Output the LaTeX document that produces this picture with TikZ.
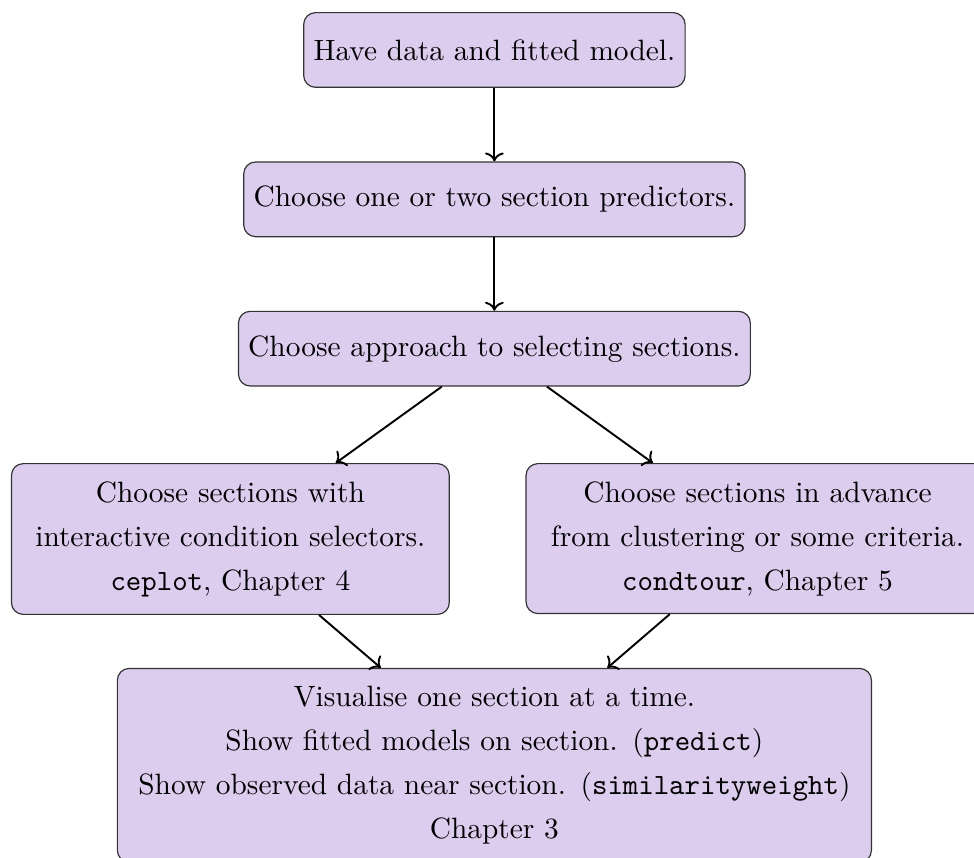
\documentclass[tikz,border=0pt]{standalone}
\usepackage{xcolor}
\usepackage{tikz}
\usetikzlibrary{arrows.meta,positioning,calc}
\definecolor{secpurple}{HTML}{DCCDEE}
\tikzset{
  flowarrow/.style={->, line width=0.65pt, draw=black},
  stepbox/.style={draw=black!80, rounded corners=4pt, fill=secpurple,
    align=center, inner ysep=6pt, minimum height=25.4pt,
    font=\linespread{1.25}\selectfont},
  choicebox/.style={stepbox, text width=5cm},
  viewbox/.style={stepbox, text width=8.78cm}
}

\begin{document}
\begin{tikzpicture}[node distance=25pt]
  \node[stepbox] (data) {Have data and fitted model.};
  \node[stepbox, below=of data] (pred) {Choose one or two section predictors.};
  \node[stepbox, below=of pred] (approach) {Choose approach to selecting sections.};
  \node[choicebox, below=26pt of approach, xshift=-89.8pt] (inter) {Choose sections with\\interactive condition selectors.\\\texttt{ceplot}, Chapter 4};
  \node[choicebox, text width=5.3cm, below=26pt of approach, xshift=89.5pt] (advance) {Choose sections in advance\\from clustering or some criteria.\\\texttt{condtour}, Chapter 5};
  \node[viewbox, below=18pt of $(inter.south -| approach.south)$] (visual) {Visualise one section at a time.\\Show fitted models on section. (\texttt{predict})\\Show observed data near section. (\texttt{similarityweight})\\Chapter 3};

  \draw[flowarrow] (data) -- (pred);
  \draw[flowarrow] (pred) -- (approach);
  \draw[flowarrow] (approach) -- (inter);
  \draw[flowarrow] (approach) -- (advance);
  \draw[flowarrow] (inter) -- (visual);
  \draw[flowarrow] (advance) -- (visual);

  % page is cut a little short at the right and bottom
  \pgfresetboundingbox
  \useasboundingbox ($(inter.west |- data.north)+(-3.7pt,4.1pt)$) rectangle ++(331.3pt,-291.8pt);
\end{tikzpicture}
\end{document}
